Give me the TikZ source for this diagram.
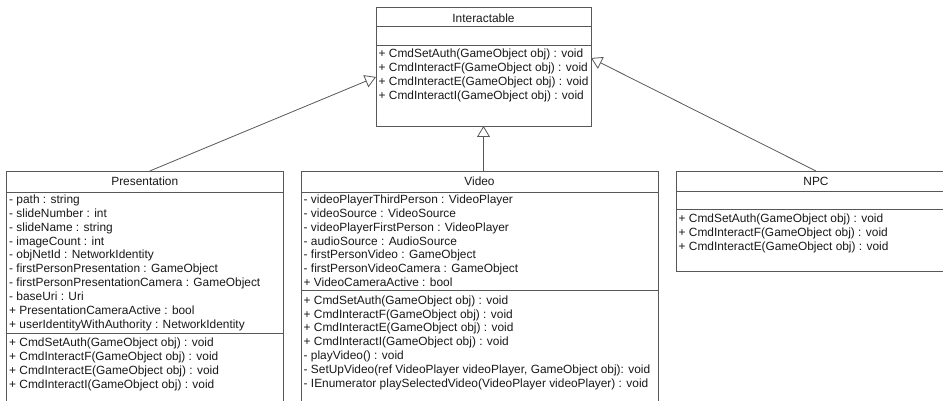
\documentclass[tikz,border=0pt]{standalone}
\usepackage{fontspec}
\setmainfont{Liberation Sans}
\usetikzlibrary{arrows.meta,calc}
\definecolor{linec}{RGB}{88,88,88}
\definecolor{textc}{RGB}{25,25,25}
\newcommand\umlsize{\fontsize{11.9}{13.85}\selectfont}
% one named node per member row: prefix, x, first baseline, list of rows
\newcommand\memberrows[4]{%
  \foreach \txt [count=\i from 0] in {#4} {%
    \node[member] (#1\i) at (#2, #3+13.85*\i) {\txt};}}
\begin{document}
\begin{tikzpicture}[x=1pt,y=-1pt,
  classbox/.style={draw=linec, line width=0.8pt, fill=white, rectangle,
    inner sep=0pt, outer sep=0pt, anchor=north west},
  member/.style={anchor=base west, inner sep=0pt, font=\umlsize, text=textc},
  classtitle/.style={anchor=base, inner sep=0pt, font=\umlsize, text=textc},
  divider/.style={draw=linec, line width=0.8pt},
  inherits/.style={draw=linec, line width=0.8pt,
    -{Triangle[length=11pt,width=13pt,fill=white]}}]
\useasboundingbox (0,0) rectangle (943,401);
\clip (0,0) rectangle (943,401);

% ---------- Interactable ----------
\node[classbox, minimum width=215pt, minimum height=119pt] (iface) at (376,7) {};
\draw[divider] (iface.west |- 0,26.7) -- (iface.east |- 0,26.7);
\draw[divider] (iface.west |- 0,45.7) -- (iface.east |- 0,45.7);
\node[classtitle] (ifaceT) at (483.5,22.5) {Interactable};
\memberrows{im}{378.5}{57.5}{%
  + CmdSetAuth(GameObject obj) : void,
  + CmdInteractF(GameObject obj) : void,
  + CmdInteractE(GameObject obj) : void,
  + CmdInteractI(GameObject obj) : void}

% ---------- Presentation ----------
\node[classbox, minimum width=276.5pt, minimum height=260pt] (pres) at (6.5,171) {};
\draw[divider] (pres.west |- 0,192.3) -- (pres.east |- 0,192.3);
\draw[divider] (pres.west |- 0,333.3) -- (pres.east |- 0,333.3);
\node[classtitle] (presT) at (144.75,185.9) {Presentation};
\memberrows{pa}{9}{203.5}{%
  - path : string,
  - slideNumber : int,
  - slideName : string,
  - imageCount : int,
  - objNetId : NetworkIdentity,
  - firstPersonPresentation : GameObject,
  - firstPersonPresentationCamera : GameObject,
  - baseUri : Uri,
  + PresentationCameraActive : bool,
  + userIdentityWithAuthority : NetworkIdentity}
\memberrows{pm}{9}{346.9}{%
  + CmdSetAuth(GameObject obj) : void,
  + CmdInteractF(GameObject obj) : void,
  + CmdInteractE(GameObject obj) : void,
  + CmdInteractI(GameObject obj) : void}

% ---------- Video ----------
\node[classbox, minimum width=357pt, minimum height=260pt] (video) at (301,171) {};
\draw[divider] (video.west |- 0,192.3) -- (video.east |- 0,192.3);
\draw[divider] (video.west |- 0,290.7) -- (video.east |- 0,290.7);
\node[classtitle] (videoT) at (479.5,185.9) {Video};
\memberrows{va}{303.5}{203.5}{%
  - videoPlayerThirdPerson : VideoPlayer,
  - videoSource : VideoSource,
  - videoPlayerFirstPerson : VideoPlayer,
  - audioSource : AudioSource,
  - firstPersonVideo : GameObject,
  - firstPersonVideoCamera : GameObject,
  + VideoCameraActive : bool}
\memberrows{vm}{303.5}{304.2}{%
  + CmdSetAuth(GameObject obj) : void,
  + CmdInteractF(GameObject obj) : void,
  + CmdInteractE(GameObject obj) : void,
  + CmdInteractI(GameObject obj) : void,
  - playVideo() : void,
  {- SetUpVideo(ref VideoPlayer videoPlayer, GameObject obj): void},
  - IEnumerator playSelectedVideo(VideoPlayer videoPlayer) : void}

% ---------- NPC ----------
\node[classbox, minimum width=280pt, minimum height=100pt] (npc) at (676,171) {};
\draw[divider] (npc.west |- 0,191.5) -- (npc.east |- 0,191.5);
\draw[divider] (npc.west |- 0,209.3) -- (npc.east |- 0,209.3);
\node[classtitle] (npcT) at (816,185.9) {NPC};
\memberrows{nm}{678.5}{222.9}{%
  + CmdSetAuth(GameObject obj) : void,
  + CmdInteractF(GameObject obj) : void,
  + CmdInteractE(GameObject obj) : void}

% ---------- generalisations ----------
\draw[inherits] ([xshift=5pt]pres.north) -- ([yshift=-10.5pt]iface.west);
\draw[inherits] (video.north -| iface.south) -- (iface.south);
\draw[inherits] (npc.north) -- ([yshift=8.5pt]iface.east);
\end{tikzpicture}
\end{document}
